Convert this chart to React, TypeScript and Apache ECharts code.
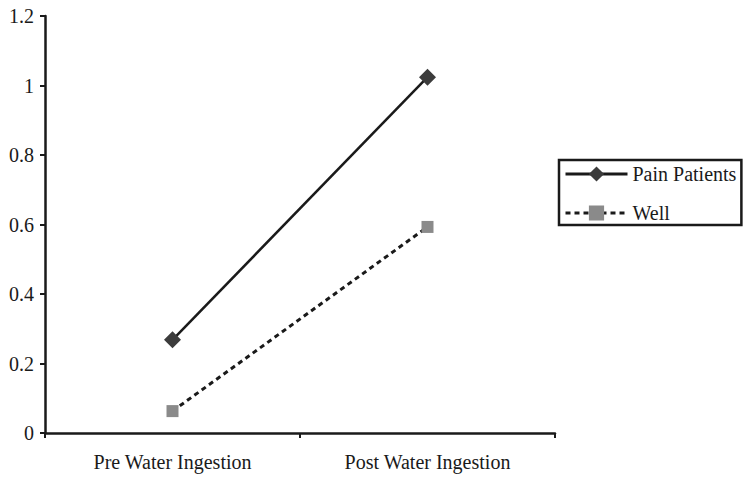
import React, { useEffect, useRef } from "react";
import * as echarts from "echarts";

const categories = ["Pre Water Ingestion", "Post Water Ingestion"];
const painPatients = [0.268, 1.024];
const well = [0.063, 0.593];
const seriesNames = ["Pain Patients", "Well"];

const FONT = "Liberation Serif, Times New Roman, serif";

export default function App() {
  const ref = useRef<HTMLDivElement>(null);
  useEffect(() => {
    if (!ref.current) return;
    const chart = echarts.init(ref.current, undefined, { renderer: "svg" });
    chart.setOption({
      animation: false,
      backgroundColor: "#fff",
      textStyle: { fontFamily: FONT },
      grid: { left: 45, right: 197, top: 16, bottom: 47, containLabel: false },
      legend: {
        orient: "vertical",
        left: 559,
        top: 160,
        padding: [4, 5, 2, 5],
        borderColor: "#1a1a1a",
        borderWidth: 2.5,
        backgroundColor: "#fff",
        itemWidth: 62,
        itemHeight: 19,
        itemGap: 19,
        lineStyle: { width: 3 },
        textStyle: { fontFamily: FONT, fontSize: 20, color: "#1a1a1a" },
        data: seriesNames,
      },
      xAxis: {
        type: "category",
        data: categories,
        boundaryGap: true,
        axisLine: { lineStyle: { color: "#1a1a1a", width: 2.5 } },
        axisTick: { show: true, inside: false, length: 5, lineStyle: { color: "#1a1a1a", width: 2 } },
        axisLabel: { fontFamily: FONT, fontSize: 20, color: "#1a1a1a", margin: 19 },
        splitLine: { show: false },
      },
      yAxis: {
        type: "value",
        min: 0,
        max: 1.2,
        interval: 0.2,
        axisLine: { show: true, lineStyle: { color: "#1a1a1a", width: 2.5 } },
        axisTick: { show: true, inside: false, length: 5, lineStyle: { color: "#1a1a1a", width: 2 } },
        axisLabel: { fontFamily: FONT, fontSize: 20, color: "#1a1a1a", margin: 11 },
        splitLine: { show: false },
      },
      series: [
        {
          name: seriesNames[0],
          type: "line",
          data: painPatients,
          symbol: "diamond",
          symbolSize: 17,
          itemStyle: { color: "#3c3c3c" },
          lineStyle: { color: "#1a1a1a", width: 2.5, type: "solid" },
        },
        {
          name: seriesNames[1],
          type: "line",
          data: well,
          symbol: "rect",
          symbolSize: 12,
          itemStyle: { color: "#8a8a8a" },
          lineStyle: { color: "#1a1a1a", width: 3, type: [5, 4] },
        },
      ],
    });
    return () => chart.dispose();
  }, []);
  return <div ref={ref} style={{ width: 752, height: 480, position: "absolute", left: 0, top: 0 }} />;
}
